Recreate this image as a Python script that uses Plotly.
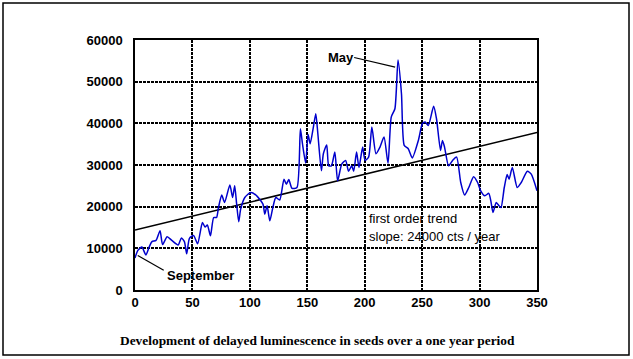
import plotly.graph_objects as go

# Measured series (day, counts)
days = [0, 2.5, 6, 9.5, 12.3, 14.8, 18.3, 21.8, 24, 28, 32, 37.6, 40.4, 43, 45, 47.4, 51, 54.5,
        58.7, 61, 63, 65.7, 68.5, 71, 72.7, 75.5, 78, 82.6, 85, 86.8, 88.5, 90.3, 92, 95.6,
        100.8, 106, 111.4, 113, 115, 117.4, 120, 122.6, 126, 129.7, 131.8, 133.9, 136.7, 141,
        144, 145.8, 148.6, 150.7, 152.5, 155.3, 157.4, 159.2, 162.3, 164, 166.9, 168.7, 171,
        174, 176.4, 180, 183.4, 185.9, 188.7, 190.4, 192.9, 195, 198.2, 200.3, 203.4, 206.2,
        209.8, 213.3, 216.8, 220.3, 223.1, 226.3, 229, 232, 234.4, 237.9, 241.4, 246.7, 250.2,
        252.6, 255.4, 260, 262.5, 266, 267.7, 269.5, 273, 276.5, 280, 283.6, 287, 290.6, 294.8,
        298.3, 301, 304.6, 308, 309.8, 311.7, 314.5, 317, 318.7, 321.5, 324, 325.7, 328.5,
        332.8, 336.3, 341.6, 345, 350]
counts = [7700, 9500, 10300, 8400, 10300, 11600, 11900, 14200, 10900, 12800, 11900, 10800, 12500,
          11600, 8700, 12400, 13100, 11100, 16200, 15100, 15600, 13000, 17400, 17400, 19800,
          22800, 21000, 25200, 22200, 25000, 20600, 16400, 19400, 22200, 23400, 22600, 20600,
          18200, 20200, 16600, 19800, 22200, 21600, 26600, 25400, 26500, 24400, 24600, 38700,
          35100, 30500, 37300, 35100, 39100, 42300, 37500, 28600, 32700, 34800, 29800, 29800,
          33100, 26200, 30200, 31100, 28500, 29800, 28500, 33100, 29400, 34300, 31100, 31900,
          39100, 32700, 34300, 36700, 30400, 41500, 43500, 55200, 47100, 34700, 33900, 31700,
          35900, 39900, 40300, 39500, 44100, 41100, 33500, 35900, 34300, 29800, 31100, 31900,
          25800, 22800, 24600, 27200, 25800, 23800, 22600, 23200, 21400, 18600, 21000, 20200,
          19800, 24600, 27700, 26600, 29400, 24600, 25800, 28500, 27800, 23800]

trend_days = [0, 350]
trend_counts = [14400, 37800]

x_ticks = [0, 50, 100, 150, 200, 250, 300, 350]
y_ticks = [0, 10000, 20000, 30000, 40000, 50000, 60000]

caption = "Development of delayed luminescence in seeds over a one year period"

fig = go.Figure()
fig.add_trace(go.Scatter(x=trend_days, y=trend_counts, mode="lines",
                         line=dict(color="black", width=1.5), hoverinfo="skip"))
fig.add_trace(go.Scatter(x=days, y=counts, mode="lines",
                         line=dict(color="#0000CC", width=1.5, shape="spline", smoothing=0.6),
                         hoverinfo="skip"))

axis_font = dict(family="Liberation Sans, Arial, sans-serif", size=13, color="black", weight="bold")

fig.update_xaxes(range=[0, 350], tickvals=x_ticks, ticktext=[str(v) for v in x_ticks],
                 showgrid=True, gridcolor="black", gridwidth=2, griddash="3px,1px",
                 showline=True, linecolor="black", linewidth=1.5, mirror=True,
                 zeroline=False, ticks="", tickfont=axis_font, ticklabelstandoff=0)
fig.update_yaxes(range=[0, 60000], tickvals=y_ticks, ticktext=[str(v) for v in y_ticks],
                 showgrid=True, gridcolor="black", gridwidth=2, griddash="3px,1px",
                 showline=True, linecolor="black", linewidth=1.5, mirror=True,
                 zeroline=False, ticks="", tickfont=axis_font, ticklabelstandoff=8)

# Annotation leader lines
fig.add_shape(type="line", x0=190.8, y0=55800, x1=226.5, y1=53500, xref="x", yref="y",
              line=dict(color="black", width=1.2))
fig.add_shape(type="line", x0=2.4, y0=8280, x1=25, y1=4750, xref="x", yref="y",
              line=dict(color="black", width=1.2))

lab_font = dict(family="Liberation Sans, Arial, sans-serif", size=13, color="black", weight="bold")
fig.add_annotation(x=179.6, y=55800, text="May", showarrow=False, font=lab_font,
                   xanchor="center", yanchor="middle")
fig.add_annotation(x=57.4, y=3480, text="September", showarrow=False, font=lab_font,
                   xanchor="center", yanchor="middle")

txt_font = dict(family="Liberation Sans, Arial, sans-serif", size=13, color="black")
fig.add_annotation(x=202.0, y=17090, text="first order trend", showarrow=False, font=txt_font,
                   xanchor="left", yanchor="middle")
fig.add_annotation(x=202.0, y=12770, text="slope: 24000 cts / year", showarrow=False,
                   font=txt_font, xanchor="left", yanchor="middle")

# Frame geometry (pixels)
W, H = 633, 359
L, R, T, B = 135, 96, 40, 69
pw, ph = W - L - R, H - T - B


def px_to_paper_x(px):
    return (px - L) / pw


def px_to_paper_y(py):
    return (H - B - py) / ph


# Caption
fig.add_annotation(x=px_to_paper_x(317), y=px_to_paper_y(340), xref="paper", yref="paper",
                   xanchor="center", yanchor="middle",
                   text="<b>" + caption + "</b>", showarrow=False,
                   font=dict(family="Liberation Serif, Times New Roman, serif", size=13.4, color="black"))

# Outer frame
fig.add_shape(type="rect", xref="paper", yref="paper",
              x0=px_to_paper_x(3), x1=px_to_paper_x(629),
              y0=px_to_paper_y(355), y1=px_to_paper_y(3),
              line=dict(color="black", width=1.5), fillcolor="rgba(0,0,0,0)", layer="below")

fig.update_layout(width=W, height=H, margin=dict(l=L, r=R, t=T, b=B),
                  paper_bgcolor="white", plot_bgcolor="white", showlegend=False)

fig.write_html("out.html", config={"displayModeBar": False},
               post_script="document.body.style.margin='0';document.body.style.overflow='hidden';")
